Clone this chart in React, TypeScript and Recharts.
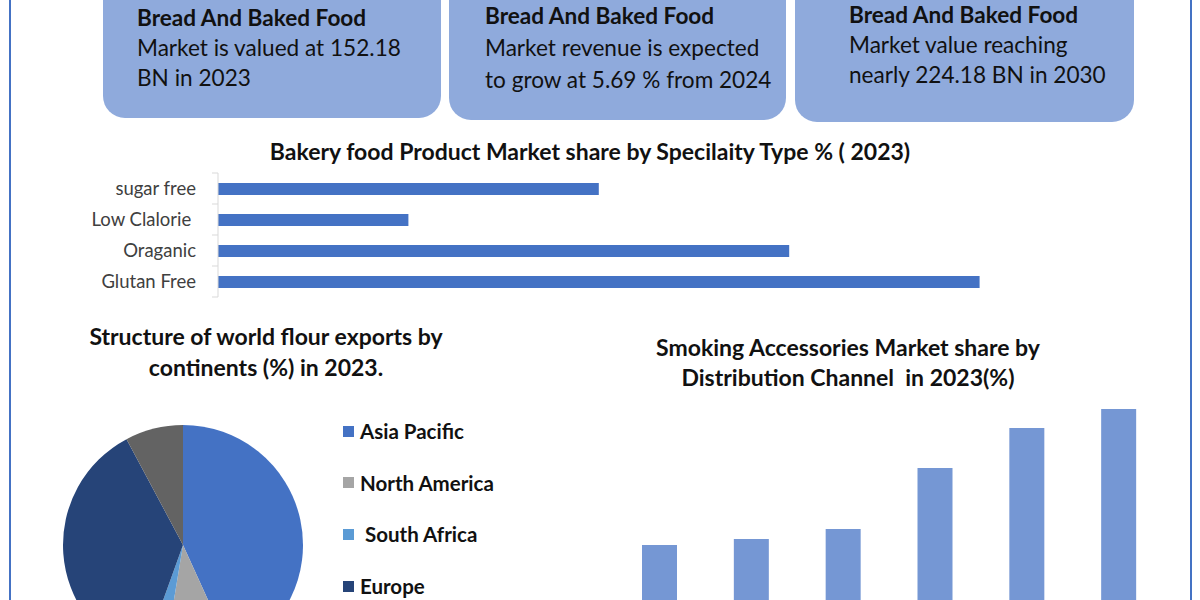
import React from 'react';
import { BarChart, Bar, XAxis, YAxis, PieChart, Pie, Cell, Legend } from 'recharts';

// ---- Data ----
const boxTitles = ['Bread And Baked Food', 'Bread And Baked Food', 'Bread And Baked Food'];
const boxLines = [
  ['Market is valued at 152.18', 'BN in 2023'],
  ['Market revenue is expected', 'to grow at 5.69 % from 2024'],
  ['Market value reaching', 'nearly 224.18 BN in 2030'],
];

const specialtyTypes = ['sugar free', 'Low Clalorie ', 'Oraganic', 'Glutan Free'];
const specialtyShares = [20, 10, 30, 40];

const continents = ['Asia Pacific', 'North America', ' South Africa', 'Europe', 'Others'];
const continentShares = [43.2, 9.4, 2.9, 36.7, 7.8];
const continentColors = ['#4472C4', '#A5A5A5', '#5B9BD5', '#264478', '#636363'];

const channels = ['Channel A', 'Channel B', 'Channel C', 'Channel D', 'Channel E', 'Channel F'];
const channelShares = [10.5, 11.1, 12.1, 18.2, 22.2, 24.1];

const specialtyData = specialtyTypes.map((name, i) => ({ name, value: specialtyShares[i] }));
const continentData = continents.map((name, i) => ({ name, value: continentShares[i] }));
const channelData = channels.map((name, i) => ({ name, value: channelShares[i] }));

const FONT = 'Lato, "Open Sans", sans-serif';

const boxStyles = [
  { left: 103, width: 338, height: 140, padLeft: 34, padTop: 25, lh: 30 },
  { left: 449, width: 337, height: 142, padLeft: 36, padTop: 22, lh: 32 },
  { left: 795, width: 339, height: 144, padLeft: 54, padTop: 22, lh: 30 },
];

const CatTick = (props: any) => {
  const { x, y, payload, index } = props;
  return (
    <g>
      <text x={x - 22} y={y} dy={6} textAnchor="end" fontSize={18.5} fill="#404040" fontFamily={FONT} style={{ whiteSpace: 'pre' }}>
        {payload.value}
      </text>
      <line x1={x - 6} x2={x} y1={y - 15.5} y2={y - 15.5} stroke="#D9D9D9" />
      {index === specialtyTypes.length - 1 && (
        <line x1={x - 6} x2={x} y1={y + 15.5} y2={y + 15.5} stroke="#D9D9D9" />
      )}
    </g>
  );
};

const renderLegend = (props: any) => {
  const payload = [...(props.payload || [])].sort(
    (a: any, b: any) => continents.indexOf(a.value) - continents.indexOf(b.value)
  );
  return (
    <div>
      {payload.map((e: any, i: number) => (
        <div key={i} style={{ display: 'flex', alignItems: 'center', height: 51.6 }}>
          <span style={{ display: 'inline-block', width: 11, height: 11, background: e.color, marginRight: 6 }} />
          <span style={{ fontFamily: FONT, fontWeight: 700, fontSize: 20.5, lineHeight: '20px', color: '#111', whiteSpace: 'pre' }}>{e.value}</span>
        </div>
      ))}
    </div>
  );
};

export default function App() {
  return (
    <div
      style={{
        position: 'fixed',
        left: 0,
        top: 0,
        width: 1200,
        height: 600,
        overflow: 'hidden',
        background: '#FFFFFF',
        fontFamily: FONT,
      }}
    >
      {/* frame lines */}
      <div style={{ position: 'absolute', left: 9, top: 0, width: 2, height: 600, background: '#4472C4' }} />
      <div style={{ position: 'absolute', left: 1190, top: 0, width: 2, height: 600, background: '#4472C4' }} />

      {/* top boxes */}
      {boxStyles.map((b, i) => (
        <div
          key={i}
          style={{
            position: 'absolute',
            left: b.left,
            top: -22,
            width: b.width,
            height: b.height,
            borderRadius: 22,
            background: '#8FAADC',
            boxSizing: 'border-box',
            paddingLeft: b.padLeft,
            paddingTop: b.padTop,
            color: '#111',
            fontSize: 22.6,
            lineHeight: `${b.lh}px`,
            whiteSpace: 'nowrap',
          }}
        >
          <div style={{ fontWeight: 700 }}>{boxTitles[i]}</div>
          {boxLines[i].map((l, j) => (
            <div key={j}>{l}</div>
          ))}
        </div>
      ))}

      {/* horizontal bar chart title */}
      <div
        style={{
          position: 'absolute',
          left: 140,
          top: 137,
          width: 900,
          textAlign: 'center',
          fontWeight: 700,
          fontSize: 23,
          lineHeight: '28px',
          color: '#111',
          whiteSpace: 'nowrap',
        }}
      >
        Bakery food Product Market share by Specilaity Type % ( 2023)
      </div>

      <div style={{ position: 'absolute', left: 0, top: 165 }}>
        <BarChart
          width={1190}
          height={140}
          data={specialtyData}
          layout="vertical"
          margin={{ top: 8, right: 20, bottom: 8, left: 0 }}
        >
          <XAxis type="number" domain={[0, 50]} hide />
          <YAxis
            type="category"
            dataKey="name"
            width={218}
            axisLine={{ stroke: '#D9D9D9' }}
            tickLine={false}
            tickSize={0}
            tickMargin={0}
            tick={<CatTick />}
            interval={0}
          />
          <Bar dataKey="value" fill="#4472C4" barSize={12} isAnimationActive={false} />
        </BarChart>
      </div>

      {/* pie title */}
      <div
        style={{
          position: 'absolute',
          left: 16,
          top: 321,
          width: 500,
          textAlign: 'center',
          fontWeight: 700,
          fontSize: 23,
          lineHeight: '31px',
          color: '#111',
          whiteSpace: 'nowrap',
        }}
      >
        Structure of world flour exports by
        <br />
        continents (%) in 2023.
      </div>

      <div style={{ position: 'absolute', left: 0, top: 400 }}>
        <PieChart width={560} height={300} margin={{ top: 0, right: 0, bottom: 0, left: 0 }}>
          <Pie
            data={continentData}
            dataKey="value"
            nameKey="name"
            cx={183}
            cy={145}
            outerRadius={120}
            startAngle={90}
            endAngle={-270}
            stroke="none"
            isAnimationActive={false}
          >
            {continentData.map((_, i) => (
              <Cell key={i} fill={continentColors[i]} />
            ))}
          </Pie>
          <Legend
            content={renderLegend}
            wrapperStyle={{ position: 'absolute', left: 343, top: 5.5, width: 220, height: 270 }}
          />
        </PieChart>
      </div>

      {/* column chart */}
      <div style={{ position: 'absolute', left: 614, top: 350 }}>
        <BarChart width={551} height={300} data={channelData} margin={{ top: 0, right: 0, bottom: 0, left: 0 }}>
          <XAxis dataKey="name" hide />
          <YAxis domain={[0, 30]} hide />
          <Bar dataKey="value" fill="#7597D4" barSize={35} isAnimationActive={false} />
        </BarChart>
      </div>

      {/* column chart title */}
      <div
        style={{
          position: 'absolute',
          left: 548,
          top: 332,
          width: 600,
          textAlign: 'center',
          fontWeight: 700,
          fontSize: 23,
          lineHeight: '30px',
          color: '#111',
          whiteSpace: 'pre',
        }}
      >
        {'Smoking Accessories Market share by\nDistribution Channel  in 2023(%)'}
      </div>
    </div>
  );
}
